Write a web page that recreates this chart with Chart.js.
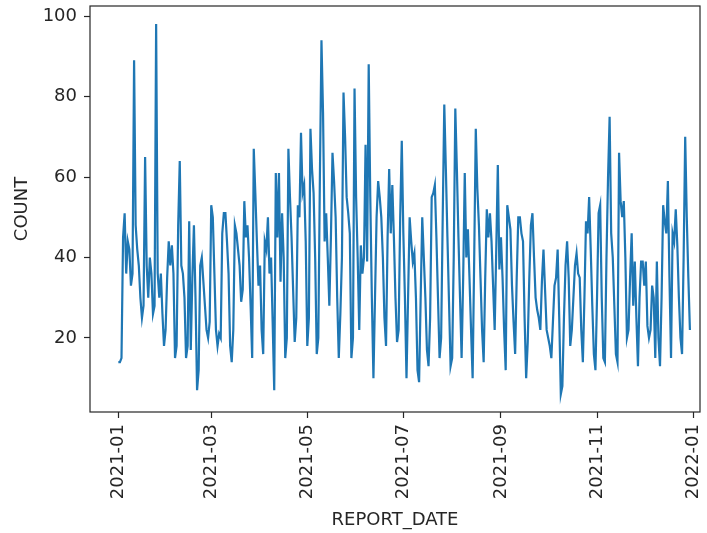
<!DOCTYPE html>
<html>
<head>
<meta charset="utf-8">
<script src="https://cdn.jsdelivr.net/npm/chart.js@4.4.0/dist/chart.umd.min.js"></script>
<style>
  html, body { margin: 0; padding: 0; background: #fff; }
  #wrap { width: 707px; height: 533px; }
</style>
</head>
<body>
<div id="wrap"><canvas id="LineChart" width="707" height="533"></canvas></div>
<script>
// daily counts, one per day starting 2021-01-01
var startDate = '2021-01-01';
var counts = [
  14,14,15,45,51,36,44,42,33,36,
  89,48,42,38,30,25,28,65,38,30,
  40,36,26,28,98,36,30,36,26,18,
  22,35,44,38,43,36,15,18,48,64,
  38,36,30,15,18,49,17,35,48,30,
  7,12,38,40,34,28,22,20,24,53,
  50,36,22,18,21,20,46,51,51,44,
  36,18,14,22,48,46,42,38,29,32,
  54,45,48,40,28,15,67,56,44,33,
  38,22,16,44,42,50,36,40,24,7,
  61,45,61,34,51,40,15,20,67,55,
  45,32,19,25,53,50,71,56,58,44,
  18,25,72,62,56,40,16,20,60,94,
  76,44,51,40,28,45,66,59,50,30,
  15,26,40,81,70,55,51,46,15,20,
  82,55,40,22,43,36,40,68,39,88,
  55,30,10,30,50,59,55,50,40,25,
  18,45,62,46,58,45,30,19,22,50,
  69,46,30,10,30,50,44,39,41,30,
  12,9,30,50,40,30,17,13,25,55,
  56,58,45,30,15,20,50,78,62,45,
  29,13,15,40,77,62,45,30,15,35,
  61,40,47,35,22,10,40,72,57,48,
  35,22,14,35,52,45,51,44,33,22,
  42,63,37,45,35,22,12,53,50,47,
  33,24,16,35,50,50,46,44,25,10,
  19,35,48,51,40,30,27,25,22,34,
  42,32,22,20,18,15,24,33,35,42,
  25,6,8,25,38,44,35,18,22,30,
  38,41,36,35,22,14,30,49,46,55,
  42,28,16,12,30,51,53,30,15,14,
  40,60,75,46,40,28,16,14,66,54,
  50,54,40,20,22,35,46,28,39,25,
  13,30,39,39,33,39,23,20,22,33,
  30,15,39,20,13,30,53,49,46,59,
  35,15,46,44,52,43,30,20,16,40,
  70,50,35,22
];
// x ticks: days since startDate for each month label
var tickDays   = [0, 59, 120, 181, 243, 304, 365];
var tickLabels = ['2021-01', '2021-03', '2021-05', '2021-07', '2021-09', '2021-11', '2022-01'];
var yTicks     = [20, 40, 60, 80, 100];

function createPoints(values){
    var pts = [];
    for (var i = 0; i < values.length; i++) {
        pts.push({ x: i, y: values[i] });
    }
    return pts;
}

var textColor = '#262626';
var fontFamily = '"DejaVu Sans", sans-serif';
var fontSize = 18;

// box round the plot area, like matplotlib spines
var framePlugin = {
    id: 'frame',
    afterDatasetsDraw: function (chart) {
        var a = chart.chartArea, ctx = chart.ctx;
        ctx.save();
        ctx.strokeStyle = textColor;
        ctx.lineWidth = 1.2;
        ctx.strokeRect(a.left, a.top, a.right - a.left, a.bottom - a.top);
        ctx.restore();
    }
};

var ctx = document.getElementById('LineChart').getContext('2d');
new Chart(ctx, {
    type: 'line',
    data: {
        datasets: [{
            label: 'COUNT',
            data: createPoints(counts),
            borderColor: '#1f77b4',
            borderWidth: 2.2,
            pointRadius: 0,
            tension: 0,
            fill: false
        }]
    },
    options: {
        responsive: false,
        animation: false,
        devicePixelRatio: 1,
        layout: { padding: { top: 6, right: 7, left: 0, bottom: 0 } },
        plugins: { legend: { display: false }, tooltip: { enabled: false } },
        scales: {
            x: {
                type: 'linear',
                min: -18,
                max: 369.4,
                afterBuildTicks: function (axis) {
                    axis.ticks = tickDays.map(function (d) { return { value: d }; });
                },
                afterFit: function (axis) {
                    axis.height = 121;
                    axis.paddingLeft = 0;
                    axis.paddingRight = 0;
                },
                ticks: {
                    autoSkip: false,
                    minRotation: 90,
                    maxRotation: 90,
                    padding: 6,
                    color: textColor,
                    font: { family: fontFamily, size: fontSize },
                    callback: function (v) {
                        var i = tickDays.indexOf(v);
                        return i >= 0 ? tickLabels[i] : '';
                    }
                },
                grid: { drawOnChartArea: false, drawTicks: true, tickLength: 6, tickColor: textColor, tickWidth: 1.2 },
                border: { display: false },
                title: {
                    display: true, text: 'REPORT_DATE', color: textColor,
                    font: { family: fontFamily, size: fontSize }, padding: { top: 0, bottom: 2 }
                }
            },
            y: {
                type: 'linear',
                min: 1.6,
                max: 102.5,
                afterBuildTicks: function (axis) {
                    axis.ticks = yTicks.map(function (v) { return { value: v }; });
                },
                afterFit: function (axis) {
                    axis.width = 90;
                    axis.paddingTop = 0;
                    axis.paddingBottom = 0;
                },
                ticks: {
                    padding: 7,
                    color: textColor,
                    font: { family: fontFamily, size: fontSize }
                },
                grid: { drawOnChartArea: false, drawTicks: true, tickLength: 6, tickColor: textColor, tickWidth: 1.2 },
                border: { display: false },
                title: {
                    display: true, text: 'COUNT', color: textColor,
                    font: { family: fontFamily, size: fontSize }, padding: { top: 12, bottom: 0 }
                }
            }
        }
    },
    plugins: [framePlugin]
});
</script>
</body>
</html>
